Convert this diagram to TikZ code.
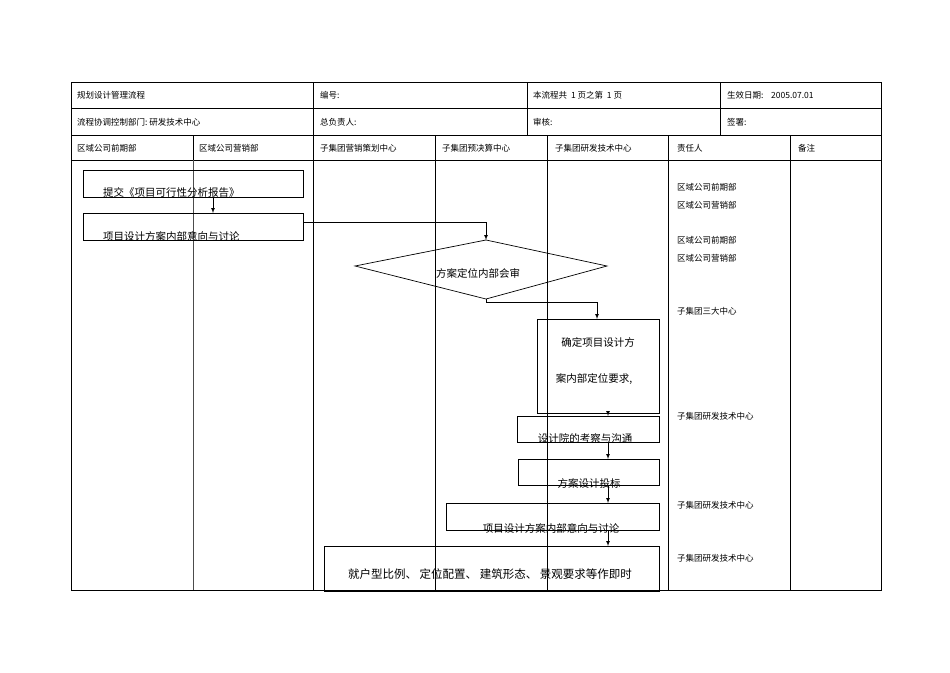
\documentclass[tikz,border=0pt]{standalone}
\usepackage{fontspec}
\setmainfont{Liberation Sans}
\newfontfamily\cjk{Noto Sans CJK SC}
\begin{document}
\begin{tikzpicture}[x=1pt,y=-1pt,
  tbl/.style={line width=0.6pt},
  lane/.style={line width=0.5pt,black!70},
  box/.style={draw,line width=0.7pt},
  hd/.style={anchor=base west,inner sep=0pt,font=\cjk\fontsize{8.5}{10}\selectfont},
  bt/.style={inner sep=0pt,font=\cjk\fontsize{10.5}{12}\selectfont},
  arr/.style={-latex,line width=0.7pt}]
\useasboundingbox (0,0) rectangle (950,672);
% table
\draw[tbl] (71,82) rectangle (881,590);
\foreach \y in {108,135,160} \draw[tbl] (71,\y) -- (881,\y);
\foreach \x in {313,527,720} \draw[tbl] (\x,82) -- (\x,135);
\draw[tbl] (193,135) -- (193,160);
\foreach \x in {313,435,547,668,790} \draw[tbl] (\x,135) -- (\x,590);
\draw[lane] (193,160) -- (193,590);
% header texts
\node[hd] (h1) at (77,98) {规划设计管理流程};
\node[hd] (h2) at (320,98) {编号:};
\node[hd] (h3) at (533,98) {本流程共\ \ 1 页之第\ \ 1 页};
\node[hd] (h4) at (727,98) {生效日期:\ \ \ \ 2005.07.01};
\node[hd] (h5) at (77,125) {流程协调控制部门:\ 研发技术中心};
\node[hd] (h6) at (320,125) {总负责人:};
\node[hd] (h7) at (533,125) {审核:};
\node[hd] (h8) at (727,125) {签署:};
\node[hd] (c1) at (77,151) {区域公司前期部};
\node[hd] (c2) at (199,151) {区域公司营销部};
\node[hd] (c3) at (320,151) {子集团营销策划中心};
\node[hd] (c4) at (442,151) {子集团预决算中心};
\node[hd] (c5) at (555,151) {子集团研发技术中心};
\node[hd] (c6) at (677,151) {责任人};
\node[hd] (c7) at (798,151) {备注};
% responsible
\node[hd] (r1) at (677,190) {区域公司前期部};
\node[hd] (r2) at (677,208) {区域公司营销部};
\node[hd] (r3) at (677,243) {区域公司前期部};
\node[hd] (r4) at (677,261) {区域公司营销部};
\node[hd] (r5) at (677,314) {子集团三大中心};
\node[hd] (r6) at (677,419) {子集团研发技术中心};
\node[hd] (r7) at (677,508) {子集团研发技术中心};
\node[hd] (r8) at (677,561) {子集团研发技术中心};
% boxes
\draw[box] (83,170) rectangle (303,197); \coordinate (b1) at (213,197);
\node[bt,anchor=base west] (t1) at (103,196) {提交《项目可行性分析报告》};
\draw[box] (83,213) rectangle (303,240); \coordinate (b2t) at (213,213); \coordinate (b2r) at (303,222);
\node[bt,anchor=base west] (t2) at (103,240) {项目设计方案内部意向与讨论};
\draw[box] (355,266) -- (486,240) -- (607,266) -- (486,299) -- cycle;
\coordinate (dt) at (486,240); \coordinate (db) at (486,299);
\node[bt,anchor=base] (t3) at (478,277) {方案定位内部会审};
\draw[box] (537,319) rectangle (659,413); \coordinate (b3t) at (597,319); \coordinate (b3b) at (608,413);
\node[bt,anchor=base] (t4a) at (598,346) {确定项目设计方};
\node[bt,anchor=base] (t4b) at (594,382) {案内部定位要求,};
\draw[box] (517,416) rectangle (659,442); \coordinate (b4t) at (608,416); \coordinate (b4b) at (608,442);
\node[bt,anchor=base] (t5) at (585,442) {设计院的考察与沟通};
\draw[box] (518,459) rectangle (659,485); \coordinate (b5t) at (608,459); \coordinate (b5b) at (608,485);
\node[bt,anchor=base] (t6) at (589,487) {方案设计投标};
\draw[box] (446,503) rectangle (659,530); \coordinate (b6t) at (608,503); \coordinate (b6b) at (608,530);
\node[bt,anchor=base] (t7) at (551,532) {项目设计方案内部意向与讨论};
\draw[box] (324,546) rectangle (659,591); \coordinate (b7t) at (608,546);
\node[bt,anchor=base,font=\cjk\fontsize{11.5}{13}\selectfont] (t8) at (490,578) {就户型比例、 定位配置、 建筑形态、 景观要求等作即时};
% arrows
\draw[arr] (b1) -- (b2t);
\draw[arr] (b2r) -| (dt);
\draw[arr] (db) -- (486,302) -| (b3t);
\draw[arr] (b3b) -- (b4t);
\draw[arr] (b4b) -- (b5t);
\draw[arr] (b5b) -- (b6t);
\draw[arr] (b6b) -- (b7t);
\end{tikzpicture}
\end{document}
